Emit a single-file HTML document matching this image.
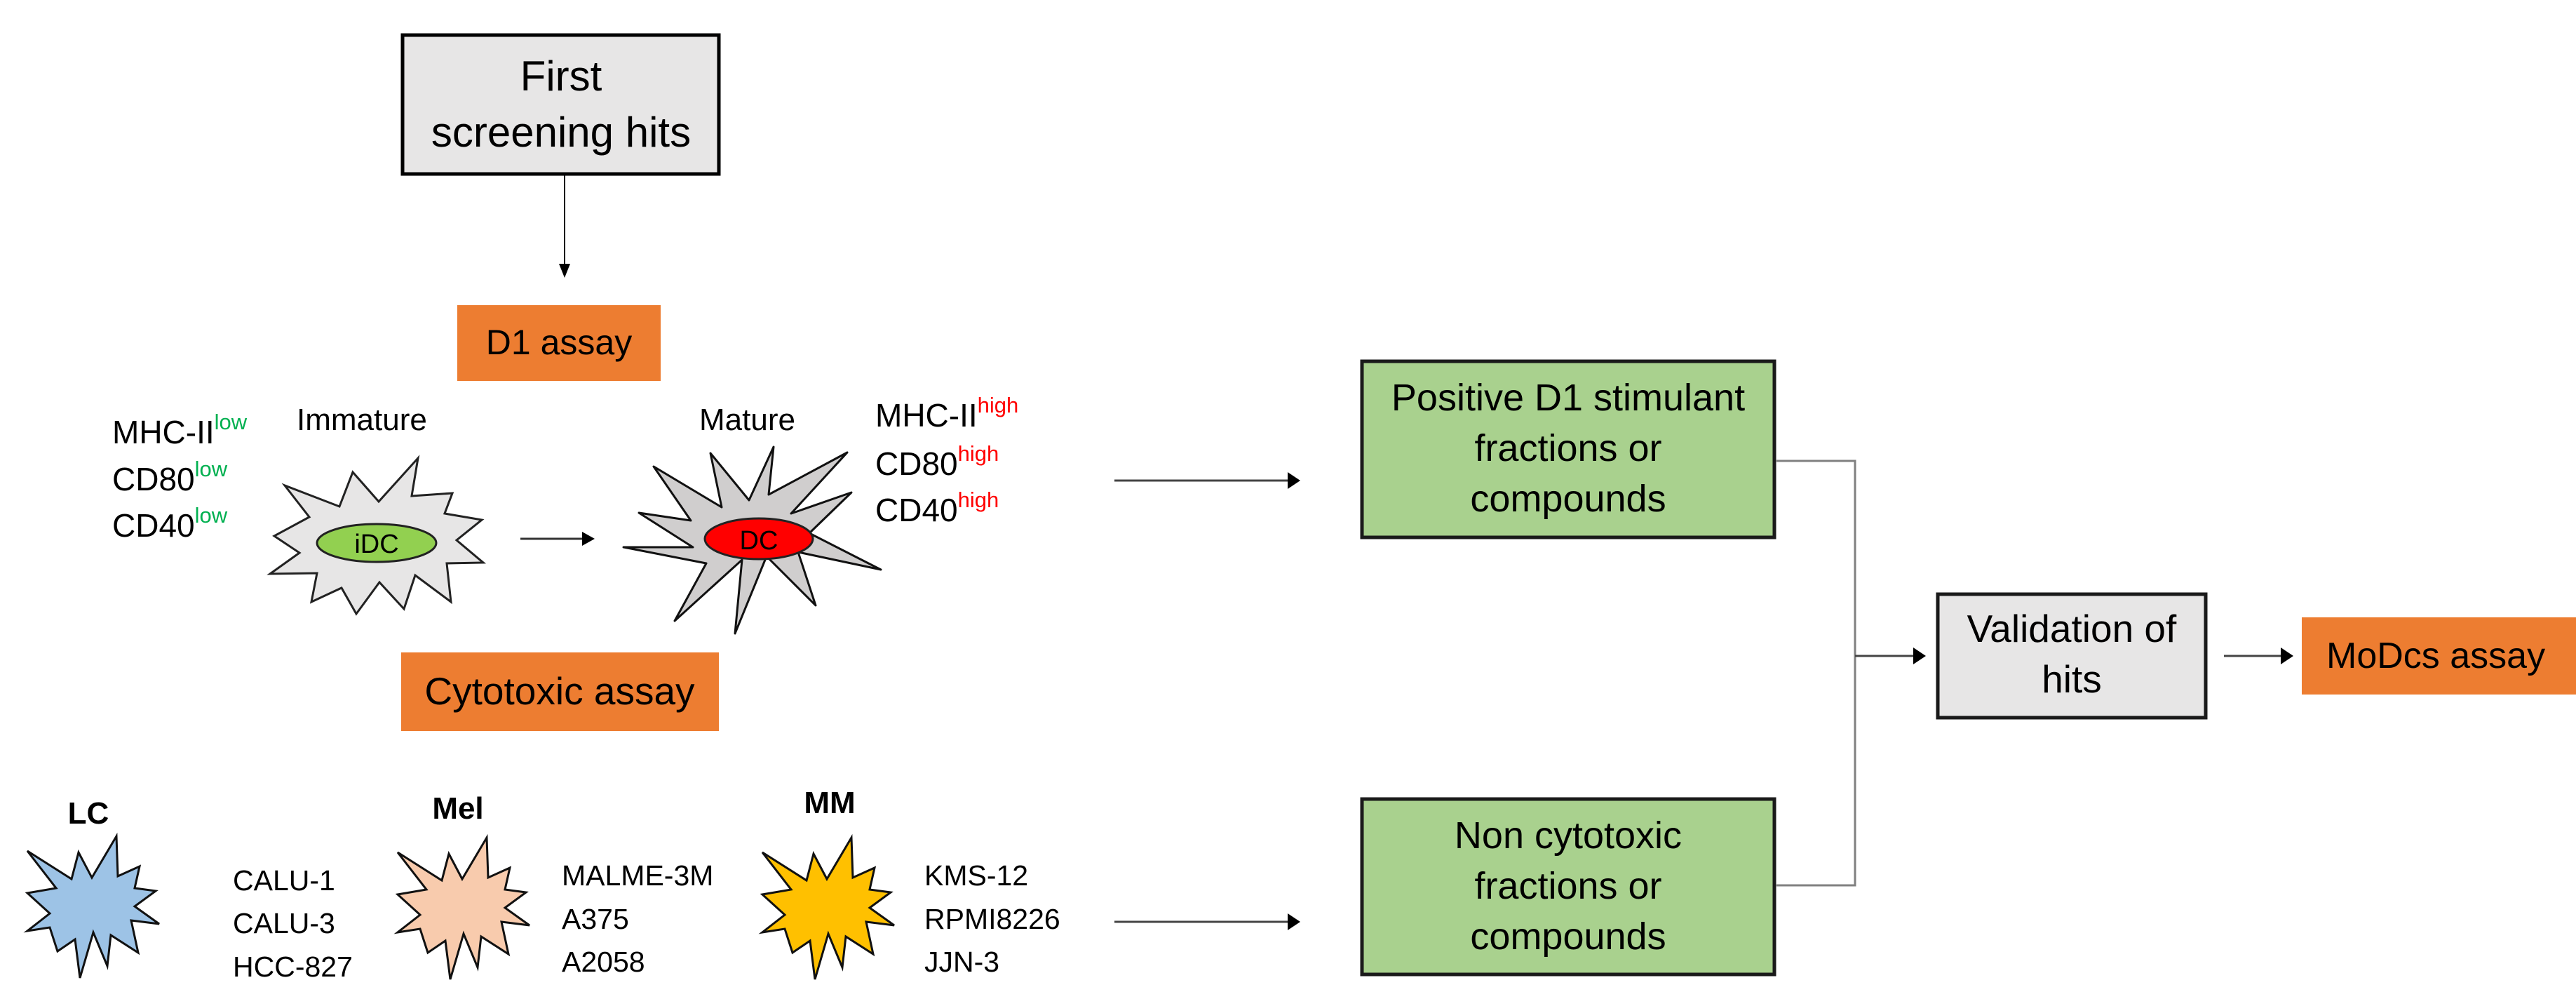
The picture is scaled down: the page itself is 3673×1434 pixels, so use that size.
<!DOCTYPE html>
<html><head><meta charset="utf-8"><style>
html,body{margin:0;padding:0;background:#fff}
svg{display:block}
text{font-family:"Liberation Sans",sans-serif;fill:#000}
</style></head><body>
<svg width="3673" height="1434" viewBox="0 0 3673 1434" xmlns="http://www.w3.org/2000/svg">
<defs>
<marker id="ah" markerWidth="8" markerHeight="8" refX="7" refY="4" orient="auto" markerUnits="userSpaceOnUse" viewBox="0 0 8 8">
</marker>
</defs>
<!-- First screening hits -->
<rect x="574" y="50" width="451" height="198" fill="#e7e6e6" stroke="#000" stroke-width="5"/>
<text x="800" y="129" font-size="60" text-anchor="middle">First</text>
<text x="800" y="209" font-size="60" text-anchor="middle">screening hits</text>
<line x1="805" y1="250" x2="805" y2="378" stroke="#000" stroke-width="2"/>
<polygon points="797,376 813,376 805,396" fill="#000"/>

<!-- D1 assay -->
<rect x="652" y="435" width="290" height="108" fill="#ed7d31"/>
<text x="797" y="505" font-size="50" text-anchor="middle">D1 assay</text>

<!-- low markers -->
<text x="160" y="632" font-size="46">MHC-II<tspan font-size="31" dy="-20" fill="#00b050">low</tspan></text>
<text x="160" y="699" font-size="46">CD80<tspan font-size="31" dy="-20" fill="#00b050">low</tspan></text>
<text x="160" y="765" font-size="46">CD40<tspan font-size="31" dy="-20" fill="#00b050">low</tspan></text>
<text x="423" y="613" font-size="44">Immature</text>

<!-- iDC star -->
<polygon points="503,673 540,715 596,653 587,707 645,703 634,732 687,741 651,770 689,802 637,803 643,858 592,820 576,868 541,830 508,875 487,838 444,858 452,817 385,818 427,788 391,764 441,737 406,692 484,722" fill="#e7e6e6" stroke="#222" stroke-width="3" stroke-linejoin="miter"/>
<ellipse cx="537" cy="774" rx="85" ry="27" fill="#92d050" stroke="#222" stroke-width="3"/>
<text x="537" y="788" font-size="38" text-anchor="middle">iDC</text>

<!-- arrow iDC->DC -->
<line x1="742" y1="768" x2="832" y2="768" stroke="#333" stroke-width="3"/>
<polygon points="830,758 848,768 830,778" fill="#000"/>

<!-- DC star -->
<text x="997" y="613" font-size="44">Mature</text>
<polygon points="932,665 1029,723 1013,646 1068,713 1103,637 1096,705 1208,645 1128,732 1214,702 1154,760 1256,812 1138,787 1163,863 1093,793 1048,903 1058,798 962,885 1007,803 889,780 988,780 911,731 985,742" fill="#d0cece" stroke="#111" stroke-width="3" stroke-linejoin="round"/>
<ellipse cx="1082" cy="768" rx="77" ry="29" fill="#ff0000" stroke="#222" stroke-width="3"/>
<text x="1082" y="783" font-size="38" text-anchor="middle">DC</text>

<!-- high markers -->
<text x="1248" y="608" font-size="46">MHC-II<tspan font-size="31" dy="-20" fill="#ff0000">high</tspan></text>
<text x="1248" y="677" font-size="46">CD80<tspan font-size="31" dy="-20" fill="#ff0000">high</tspan></text>
<text x="1248" y="743" font-size="46">CD40<tspan font-size="31" dy="-20" fill="#ff0000">high</tspan></text>

<!-- Cytotoxic assay -->
<rect x="572" y="930" width="453" height="112" fill="#ed7d31"/>
<text x="798" y="1004" font-size="55" text-anchor="middle">Cytotoxic assay</text>

<!-- cell lines -->
<text x="126" y="1174" font-size="44" font-weight="bold" text-anchor="middle">LC</text>
<text x="653" y="1167" font-size="44" font-weight="bold" text-anchor="middle">Mel</text>
<text x="1183" y="1159" font-size="44" font-weight="bold" text-anchor="middle">MM</text>

<g id="star">
<polygon points="39,1213 102,1253 112,1215 131,1251 166,1192 168,1249 199,1235 192,1266 222,1270 192,1292 227,1317 187,1312 197,1358 158,1333 153,1377 133,1329 114,1394 107,1339 82,1356 71,1322 39,1327 71,1302 39,1273 80,1266" fill="#9dc3e6" stroke="#111" stroke-width="3"/>
</g>
<g transform="translate(528,2)"><polygon points="39,1213 102,1253 112,1215 131,1251 166,1192 168,1249 199,1235 192,1266 222,1270 192,1292 227,1317 187,1312 197,1358 158,1333 153,1377 133,1329 114,1394 107,1339 82,1356 71,1322 39,1327 71,1302 39,1273 80,1266" fill="#f8cbad" stroke="#111" stroke-width="3"/></g>
<g transform="translate(1048,2)"><polygon points="39,1213 102,1253 112,1215 131,1251 166,1192 168,1249 199,1235 192,1266 222,1270 192,1292 227,1317 187,1312 197,1358 158,1333 153,1377 133,1329 114,1394 107,1339 82,1356 71,1322 39,1327 71,1302 39,1273 80,1266" fill="#ffc000" stroke="#111" stroke-width="3"/></g>

<text x="332" y="1269" font-size="41">CALU-1</text>
<text x="332" y="1330" font-size="41">CALU-3</text>
<text x="332" y="1392" font-size="41">HCC-827</text>
<text x="801" y="1262" font-size="41">MALME-3M</text>
<text x="801" y="1324" font-size="41">A375</text>
<text x="801" y="1385" font-size="41">A2058</text>
<text x="1318" y="1262" font-size="41">KMS-12</text>
<text x="1318" y="1324" font-size="41">RPMI8226</text>
<text x="1318" y="1385" font-size="41">JJN-3</text>

<!-- arrows to green boxes -->
<line x1="1589" y1="685" x2="1838" y2="685" stroke="#444" stroke-width="3"/>
<polygon points="1836,673 1854,685 1836,697" fill="#000"/>
<line x1="1589" y1="1314" x2="1838" y2="1314" stroke="#444" stroke-width="3"/>
<polygon points="1836,1302 1854,1314 1836,1326" fill="#000"/>

<!-- green boxes -->
<rect x="1942" y="515" width="588" height="251" fill="#a9d18e" stroke="#1a1a1a" stroke-width="5"/>
<text x="2236" y="585" font-size="54" text-anchor="middle">Positive D1 stimulant</text>
<text x="2236" y="657" font-size="54" text-anchor="middle">fractions or</text>
<text x="2236" y="729" font-size="54" text-anchor="middle">compounds</text>

<rect x="1942" y="1139" width="588" height="250" fill="#a9d18e" stroke="#1a1a1a" stroke-width="5"/>
<text x="2236" y="1209" font-size="54" text-anchor="middle">Non cytotoxic</text>
<text x="2236" y="1281" font-size="54" text-anchor="middle">fractions or</text>
<text x="2236" y="1353" font-size="54" text-anchor="middle">compounds</text>

<!-- connector -->
<polyline points="2532,657 2645,657 2645,1262 2532,1262" fill="none" stroke="#808080" stroke-width="3"/>
<line x1="2645" y1="935" x2="2730" y2="935" stroke="#444" stroke-width="3"/>
<polygon points="2728,923 2746,935 2728,947" fill="#000"/>

<!-- Validation -->
<rect x="2763" y="847" width="382" height="176" fill="#e7e6e6" stroke="#1a1a1a" stroke-width="5"/>
<text x="2954" y="915" font-size="55" text-anchor="middle">Validation of</text>
<text x="2954" y="987" font-size="55" text-anchor="middle">hits</text>

<line x1="3171" y1="935" x2="3254" y2="935" stroke="#444" stroke-width="3"/>
<polygon points="3252,923 3270,935 3252,947" fill="#000"/>

<!-- MoDcs -->
<rect x="3282" y="880" width="391" height="110" fill="#ed7d31"/>
<text x="3317" y="952" font-size="52">MoDcs assay</text>
</svg>
</body></html>
